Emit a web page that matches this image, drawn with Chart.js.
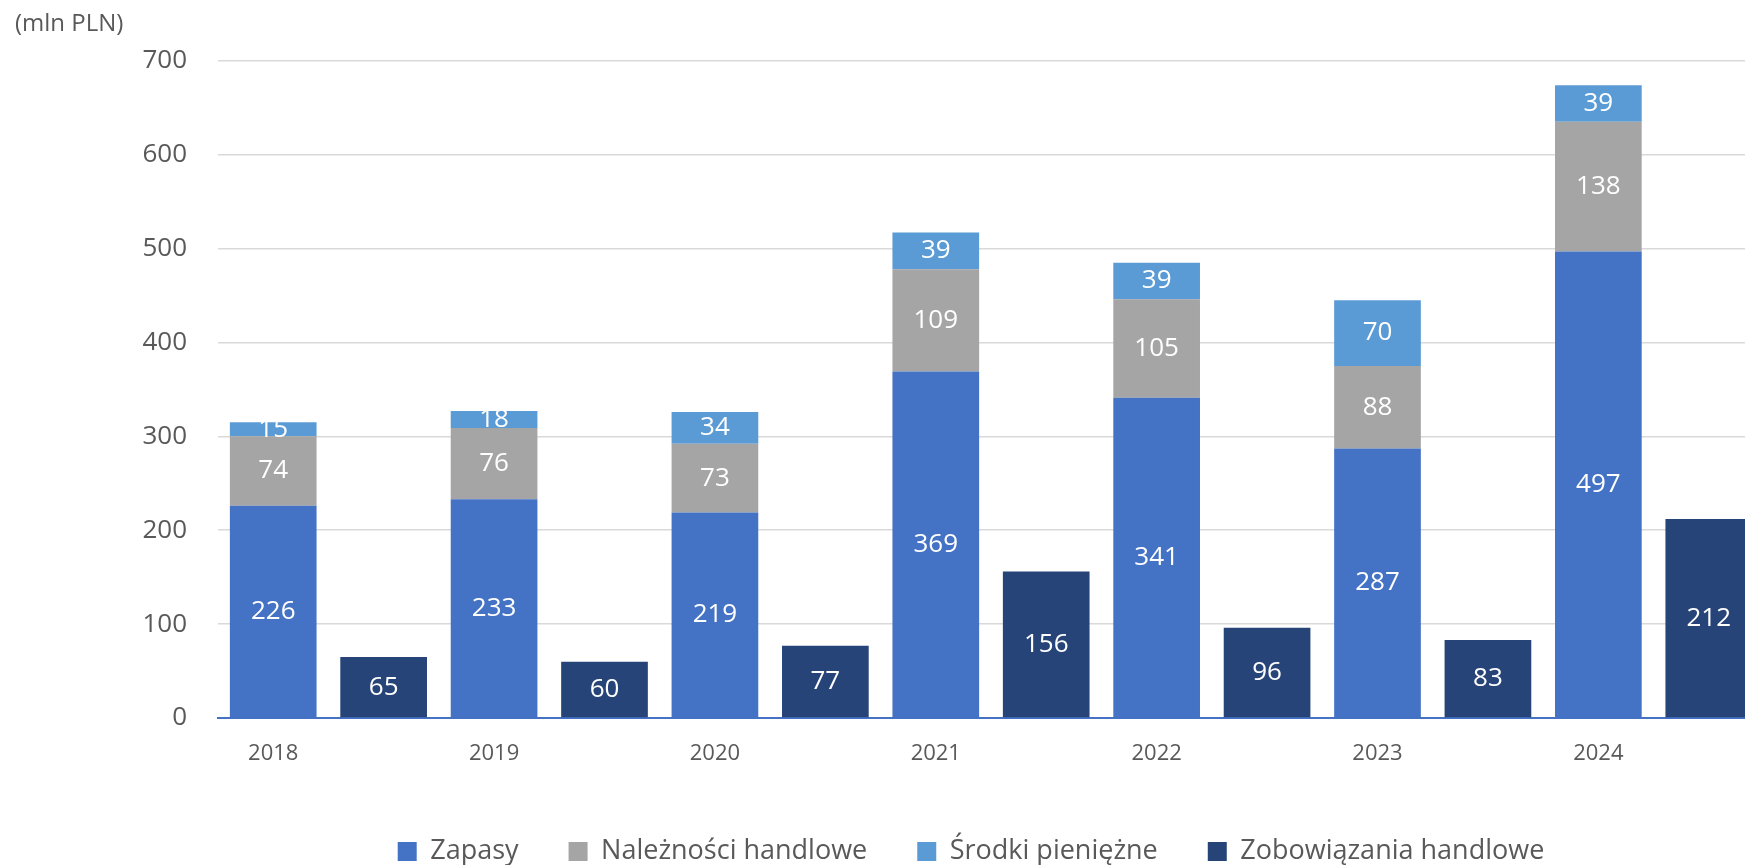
<!DOCTYPE html>
<html lang="pl">
<head>
<meta charset="utf-8">
<title>Zapasy, należności, środki pieniężne i zobowiązania handlowe</title>
<script src="https://cdn.jsdelivr.net/npm/chart.js@4/dist/chart.umd.min.js"></script>
<style>
  html, body { margin: 0; padding: 0; background: #fff; overflow: hidden; }
  #frame { width: 1745px; height: 865px; overflow: hidden; }
  #box { width: 1764px; height: 865px; position: relative; }
</style>
</head>
<body>
<div id="frame"><div id="box"><canvas id="chart"></canvas></div></div>
<script>
const years = ["2018", "2019", "2020", "2021", "2022", "2023", "2024"];
const zapasy = [226, 233, 219, 369, 341, 287, 497];
const naleznosci = [74, 76, 73, 109, 105, 88, 138];
const srodki = [15, 18, 34, 39, 39, 70, 39];
const zobowiazania = [65, 60, 77, 156, 96, 83, 212];
const yTicks = [0, 100, 200, 300, 400, 500, 600, 700];

// every year gets two slots: assets column, then liabilities column
const slots = years.flatMap((y) => [y, ""]);
const inFirst = (arr) => arr.flatMap((v) => [v, null]);
const inSecond = (arr) => arr.flatMap((v) => [null, v]);

const FONT = "'Open Sans', 'Noto Sans', sans-serif";
const GREY = "#595959";

// white value labels in the middle of each bar segment
const valueLabels = {
  id: "valueLabels",
  afterDatasetsDraw(chart) {
    const ctx = chart.ctx;
    ctx.save();
    ctx.font = "26px " + FONT;
    ctx.fillStyle = "#ffffff";
    ctx.textAlign = "center";
    ctx.textBaseline = "middle";
    chart.data.datasets.forEach((ds, i) => {
      chart.getDatasetMeta(i).data.forEach((bar, j) => {
        const v = ds.data[j];
        if (v === null || v === undefined) return;
        ctx.fillText(String(v), bar.x, (bar.y + bar.base) / 2);
      });
    });
    ctx.restore();
  },
};

// the legend sits a bit left of the plot centre and low on the page
const legendShift = {
  id: "legendShift",
  afterLayout(chart) {
    const l = chart.legend;
    l.left -= 20;
    l.right -= 20;
    l.top += 14;
    l.bottom += 14;
  },
};

new Chart(document.getElementById("chart"), {
  type: "bar",
  data: {
    labels: slots,
    datasets: [
      { label: "Zapasy", data: inFirst(zapasy), backgroundColor: "#4472C4" },
      { label: "Należności handlowe", data: inFirst(naleznosci), backgroundColor: "#A5A5A5" },
      { label: "Środki pieniężne", data: inFirst(srodki), backgroundColor: "#5B9BD5" },
      { label: "Zobowiązania handlowe", data: inSecond(zobowiazania), backgroundColor: "#264478" },
    ],
  },
  options: {
    responsive: true,
    maintainAspectRatio: false,
    animation: false,
    categoryPercentage: 1,
    barPercentage: 0.785,
    layout: { padding: { left: 15, top: 6, bottom: 4 } },
    scales: {
      x: {
        stacked: true,
        afterFit: (axis) => {
          axis.height = 56;
        },
        grid: { display: false },
        border: { display: true, color: "#4472C4", width: 2 },
        ticks: {
          color: GREY,
          font: { family: FONT, size: 22 },
          padding: 15,
          autoSkip: false,
          maxRotation: 0,
        },
      },
      y: {
        stacked: true,
        min: 0,
        max: 700,
        afterBuildTicks: (axis) => {
          axis.ticks = yTicks.map((v) => ({ value: v }));
        },
        afterFit: (axis) => {
          axis.width = 203;
        },
        grid: { color: "#D9D9D9", lineWidth: 1.5, drawTicks: false },
        border: { display: false },
        ticks: {
          color: GREY,
          font: { family: FONT, size: 26 },
          padding: 31,
        },
      },
    },
    plugins: {
      title: {
        display: true,
        text: "(mln PLN)",
        align: "start",
        color: GREY,
        font: { family: FONT, size: 24, weight: "normal" },
        padding: { top: 4, bottom: 22 },
      },
      legend: {
        position: "bottom",
        fullSize: false,
        labels: {
          color: GREY,
          font: { family: FONT, size: 27 },
          boxWidth: 19,
          boxHeight: 19,
          padding: 50,
        },
      },
      tooltip: { enabled: false },
    },
  },
  plugins: [valueLabels, legendShift],
});
</script>
</body>
</html>
